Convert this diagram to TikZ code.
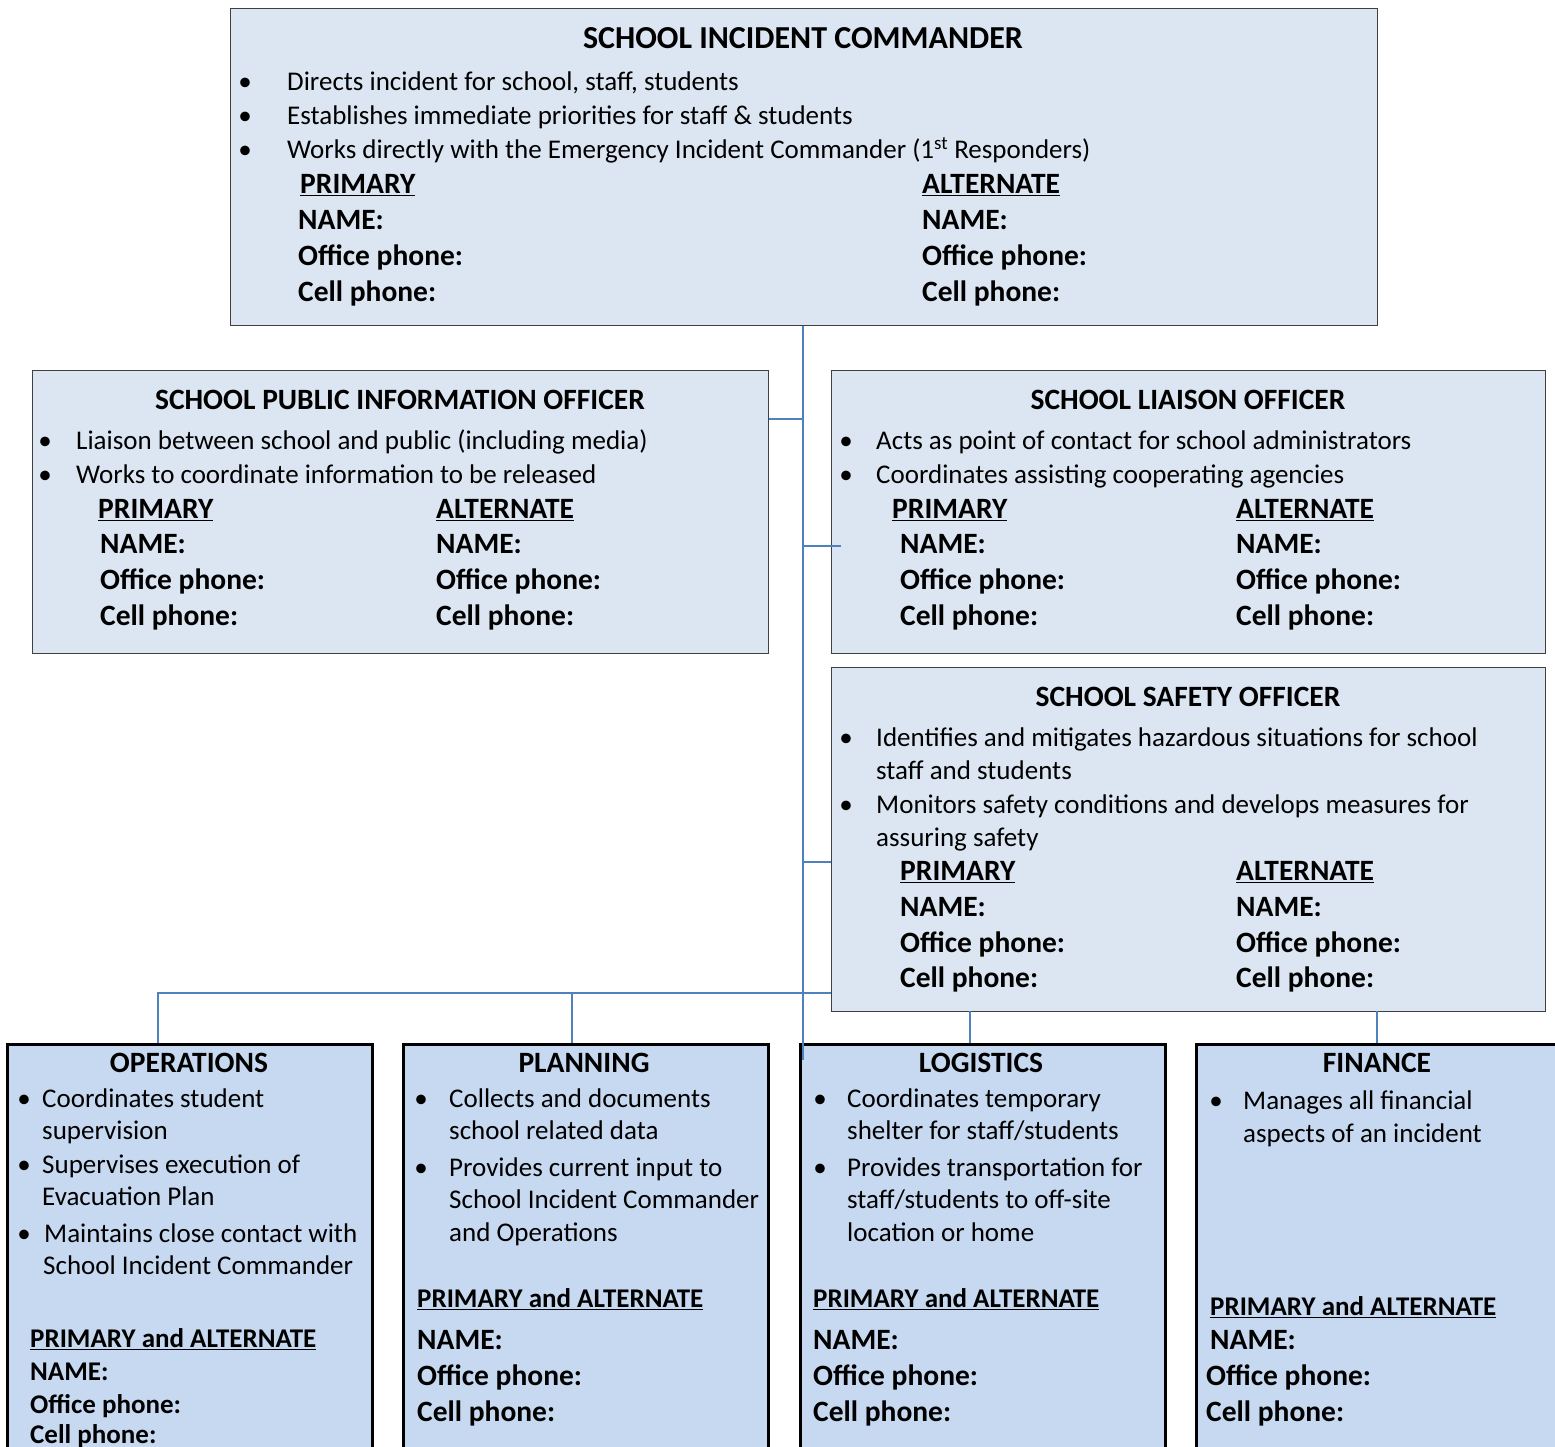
\documentclass[tikz,border=0pt]{standalone}
\usepackage{fontspec}
\setmainfont{Carlito}
\definecolor{boxa}{HTML}{DCE6F2}
\definecolor{boxb}{HTML}{C6D9F1}
\definecolor{conn}{HTML}{4F81BD}
\newcounter{tlc}
\newcommand\putline[3][]{\stepcounter{tlc}\node[txt,#1] (t\arabic{tlc}) at (#2) {#3};}
\newcommand\putbul[1]{\stepcounter{tlc}\node[bul] (b\arabic{tlc}) at (#1) {•};}
\begin{document}
\begin{tikzpicture}[x=1pt,y=-1pt,
  txt/.style={anchor=mid west,inner sep=0pt,yshift=-6pt,font=\fontsize{27}{32}\selectfont},
  ttl/.style={anchor=mid,inner sep=0pt,yshift=-7pt,font=\fontsize{29.5}{34}\selectfont\bfseries},
  bigttl/.style={ttl,font=\fontsize{32}{36}\selectfont\bfseries},
  bul/.style={anchor=mid,inner sep=0pt,yshift=-6pt,font=\fontsize{27}{32}\selectfont},
  lab/.style={txt,yshift=5pt,font=\fontsize{29.5}{34}\selectfont\bfseries},
  pal/.style={txt,yshift=5pt,font=\fontsize{27}{32}\selectfont\bfseries},
  topbox/.style={draw=black!75,line width=1.3pt,fill=boxa,inner sep=0pt},
  botbox/.style={draw=black,line width=3pt,fill=boxb,inner sep=0pt},
  link/.style={draw=conn,line width=2pt}]
\useasboundingbox (0,0) rectangle (1555,1446);
\clip (0,0) rectangle (1555,1446);
% boxes
\node[topbox,anchor=north west,minimum width=1147pt,minimum height=317pt] (ic) at (230,8) {};
\node[topbox,anchor=north west,minimum width=736pt,minimum height=283pt] (pio) at (32,370) {};
\node[topbox,anchor=north west,minimum width=714pt,minimum height=283pt] (lia) at (831,370) {};
\node[topbox,anchor=north west,minimum width=714pt,minimum height=344pt] (saf) at (831,667) {};
\node[botbox,anchor=north west,minimum width=365pt,minimum height=450pt] (ops) at (6,1043) {};
\node[botbox,anchor=north west,minimum width=365pt,minimum height=450pt] (pla) at (402,1043) {};
\node[botbox,anchor=north west,minimum width=365pt,minimum height=450pt] (log) at (799,1043) {};
\node[botbox,anchor=north west,minimum width=400pt,minimum height=450pt] (fin) at (1195,1043) {};
% connectors
\coordinate (trunk) at (803,1060);
\coordinate (j1) at (803,419);
\coordinate (j2) at (803,546);
\coordinate (j2e) at (841,546);
\coordinate (j3) at (803,862);
\coordinate (bus) at (803,993);
\coordinate (opsb) at (158,993);
\coordinate (plab) at (572,993);
\coordinate (logt) at (970,1011);
\coordinate (fint) at (1377,1011);
\draw[link] (ic.south -| trunk) -- (trunk);
\draw[link] (pio.east |- j1) -- (j1);
\draw[link] (j2) -- (j2e);
\draw[link] (j3) -- (saf.west |- j3);
\draw[link] (saf.west |- bus) -- (opsb) -- (ops.north -| opsb);
\draw[link] (plab) -- (pla.north -| plab);
\draw[link] (logt) -- (log.north -| logt);
\draw[link] (fint) -- (fin.north -| fint);
% incident commander
\node[bigttl] (ict) at (803,39) {SCHOOL INCIDENT COMMANDER};
\putbul{245,82}\putline{287,82}{Directs incident for school, staff, students}
\putbul{245,116}\putline{287,116}{Establishes immediate priorities for staff \& students}
\putbul{245,150}\putline{287,150}{Works directly with the Emergency Incident Commander (1\textsuperscript{st} Responders)}
\putline[lab]{300,184}{\underline{PRIMARY}}
\putline[lab]{298,220}{NAME:}
\putline[lab]{298,256}{Office phone:}
\putline[lab]{298,292}{Cell phone:}
\putline[lab]{922,184}{\underline{ALTERNATE}}
\putline[lab]{922,220}{NAME:}
\putline[lab]{922,256}{Office phone:}
\putline[lab]{922,292}{Cell phone:}
% PIO
\node[ttl] (piot) at (400,400) {SCHOOL PUBLIC INFORMATION OFFICER};
\putbul{45,441}\putline{76,441}{Liaison between school and public (including media)}
\putbul{45,475}\putline{76,475}{Works to coordinate information to be released}
\putline[lab]{98,509}{\underline{PRIMARY}}
\putline[lab]{100,544}{NAME:}
\putline[lab]{100,580}{Office phone:}
\putline[lab]{100,616}{Cell phone:}
\putline[lab]{436,509}{\underline{ALTERNATE}}
\putline[lab]{436,544}{NAME:}
\putline[lab]{436,580}{Office phone:}
\putline[lab]{436,616}{Cell phone:}
% Liaison
\node[ttl] (liat) at (1188,400) {SCHOOL LIAISON OFFICER};
\putbul{846,441}\putline{876,441}{Acts as point of contact for school administrators}
\putbul{846,475}\putline{876,475}{Coordinates assisting cooperating agencies}
\putline[lab]{892,509}{\underline{PRIMARY}}
\putline[lab]{900,544}{NAME:}
\putline[lab]{900,580}{Office phone:}
\putline[lab]{900,616}{Cell phone:}
\putline[lab]{1236,509}{\underline{ALTERNATE}}
\putline[lab]{1236,544}{NAME:}
\putline[lab]{1236,580}{Office phone:}
\putline[lab]{1236,616}{Cell phone:}
% Safety
\node[ttl] (saft) at (1188,697) {SCHOOL SAFETY OFFICER};
\putbul{846,738}\putline{876,738}{Identifies and mitigates hazardous situations for school}
\putline{876,771}{staff and students}
\putbul{846,805}\putline{876,805}{Monitors safety conditions and develops measures for}
\putline{876,838}{assuring safety}
\putline[lab]{900,871}{\underline{PRIMARY}}
\putline[lab]{900,907}{NAME:}
\putline[lab]{900,943}{Office phone:}
\putline[lab]{900,978}{Cell phone:}
\putline[lab]{1236,871}{\underline{ALTERNATE}}
\putline[lab]{1236,907}{NAME:}
\putline[lab]{1236,943}{Office phone:}
\putline[lab]{1236,978}{Cell phone:}
% Operations
\node[ttl] (opst) at (189,1063) {OPERATIONS};
\putbul{24,1099}\putline{42,1099}{Coordinates student}
\putline{42,1131}{supervision}
\putbul{24,1165}\putline{42,1165}{Supervises execution of}
\putline{42,1197}{Evacuation Plan}
\putbul{24,1234}\putline{44,1234}{Maintains close contact with}
\putline{43,1266}{School Incident Commander}
\putline[pal]{30,1338}{\underline{PRIMARY and ALTERNATE}}
\putline[pal]{30,1371}{NAME:}
\putline[pal]{30,1404}{Office phone:}
\putline[pal]{30,1434}{Cell phone:}
% Planning
\node[ttl] (plat) at (584,1063) {PLANNING};
\putbul{421,1099}\putline{449,1099}{Collects and documents}
\putline{449,1131}{school related data}
\putbul{421,1168}\putline{449,1168}{Provides current input to}
\putline{449,1200}{School Incident Commander}
\putline{449,1233}{and Operations}
\putline[pal]{417,1298}{\underline{PRIMARY and ALTERNATE}}
\putline[lab]{417,1340}{NAME:}
\putline[lab]{417,1376}{Office phone:}
\putline[lab]{417,1412}{Cell phone:}
% Logistics
\node[ttl] (logtt) at (981,1063) {LOGISTICS};
\putbul{820,1099}\putline{847,1099}{Coordinates temporary}
\putline{847,1131}{shelter for staff/students}
\putbul{820,1168}\putline{847,1168}{Provides transportation for}
\putline{847,1200}{staff/students to off-site}
\putline{847,1233}{location or home}
\putline[pal]{813,1298}{\underline{PRIMARY and ALTERNATE}}
\putline[lab]{813,1340}{NAME:}
\putline[lab]{813,1376}{Office phone:}
\putline[lab]{813,1412}{Cell phone:}
% Finance
\node[ttl] (fintt) at (1377,1063) {FINANCE};
\putbul{1216,1101}\putline{1243,1101}{Manages all financial}
\putline{1243,1134}{aspects of an incident}
\putline[pal]{1210,1306}{\underline{PRIMARY and ALTERNATE}}
\putline[lab]{1210,1340}{NAME:}
\putline[lab]{1206,1376}{Office phone:}
\putline[lab]{1206,1412}{Cell phone:}
\end{tikzpicture}
\end{document}
